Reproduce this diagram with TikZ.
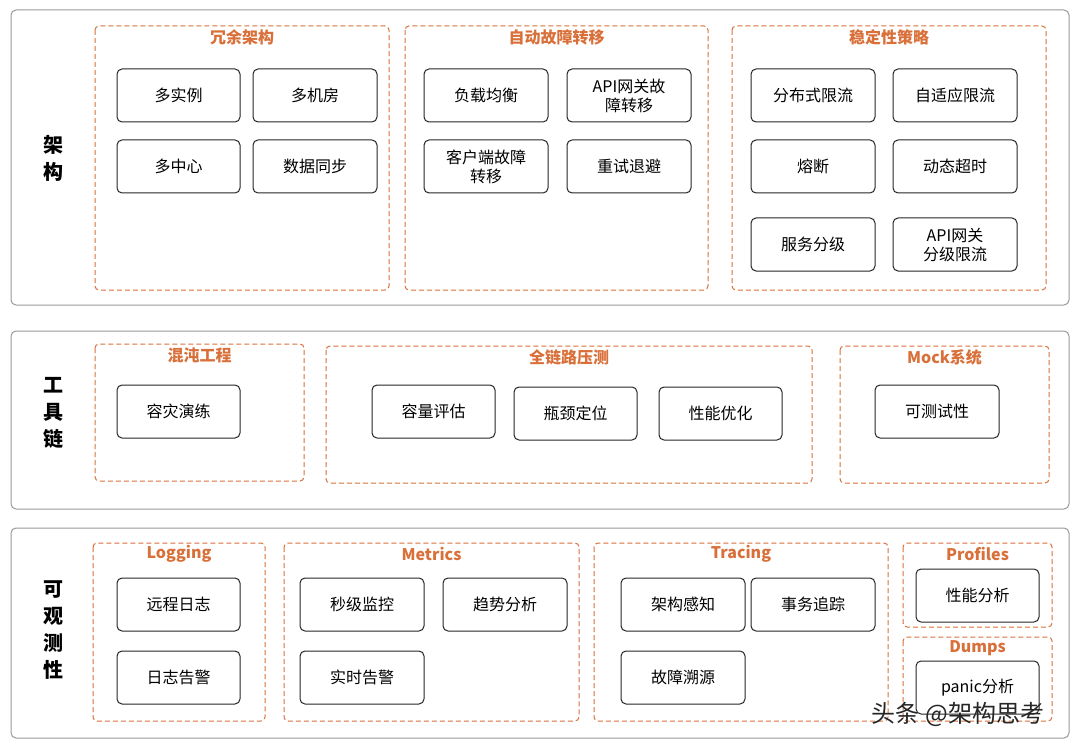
\documentclass[tikz,border=0pt]{standalone}
\usepackage{fontspec}
\setmainfont{Noto Sans CJK SC}
\definecolor{og}{HTML}{D9703A}
\begin{document}
\begin{tikzpicture}[x=1pt,y=-1pt,
 panel/.style={draw=black!40,line width=1pt,rounded corners=5pt,fill=white},
 grp/.style={draw=og,line width=1pt,rounded corners=4pt,dash pattern=on 5pt off 3pt},
 gt/.style={text=og,font=\fontsize{16}{16}\selectfont\bfseries},
 box/.style={draw=black!85,line width=1pt,rounded corners=5pt},
 bt/.style={align=center,font=\fontsize{16}{19}\selectfont},
 side/.style={align=center,font=\fontsize{20}{27}\selectfont\bfseries}]
\useasboundingbox (0,0) rectangle (1080,749);
\fill[white] (0,0) rectangle (1080,749);
\newcommand\bx[6]{\draw[box] (#2,#3) rectangle (#4,#5); \node[bt] (#1) at ({(#2+#4)/2},{(#3+#5)/2}) {#6};}
\newcommand\gr[6]{\draw[grp] (#2,#3) rectangle (#4,#5); \node[gt] (#1) at ({(#2+#4)/2},{#3+11}) {#6};}
\draw[panel] (11,10) rectangle (1069,305);
\draw[panel] (11,331) rectangle (1069,509);
\draw[panel] (11,528) rectangle (1069,738);
\node[side] (s1) at (53,158) {架\\构};
\node[side] (s2) at (53,413) {工\\具\\链};
\node[side] (s3) at (53,630) {可\\观\\测\\性};
\gr{g1}{95}{26}{389}{290}{冗余架构}
\gr{g2}{405}{26}{708}{290}{自动故障转移}
\gr{g3}{732}{26}{1046}{290}{稳定性策略}
\bx{b1}{117}{69}{240}{122}{多实例}
\bx{b2}{253}{69}{377}{122}{多机房}
\bx{b3}{117}{140}{240}{193}{多中心}
\bx{b4}{253}{140}{377}{193}{数据同步}
\bx{b5}{424}{69}{548}{122}{负载均衡}
\bx{b6}{567}{69}{691}{122}{API网关故\\障转移}
\bx{b7}{424}{140}{548}{193}{客户端故障\\转移}
\bx{b8}{567}{140}{691}{193}{重试退避}
\bx{b9}{751}{69}{875}{122}{分布式限流}
\bx{b10}{893}{69}{1017}{122}{自适应限流}
\bx{b11}{751}{140}{875}{193}{熔断}
\bx{b12}{893}{140}{1017}{193}{动态超时}
\bx{b13}{751}{218}{875}{271}{服务分级}
\bx{b14}{893}{218}{1017}{271}{API网关\\分级限流}
\gr{g4}{95}{344}{304}{481}{混沌工程}
\gr{g5}{326}{346}{812}{483}{全链路压测}
\gr{g6}{840}{346}{1049}{483}{Mock系统}
\bx{c1}{117}{385}{240}{438}{容灾演练}
\bx{c2}{372}{385}{495}{438}{容量评估}
\bx{c3}{514}{387}{637}{440}{瓶颈定位}
\bx{c4}{659}{387}{782}{440}{性能优化}
\bx{c5}{875}{385}{999}{438}{可测试性}
\gr{g7}{93}{543}{265}{721}{Logging}
\gr{g8}{284}{543}{579}{721}{Metrics}
\gr{g9}{594}{543}{888}{721}{Tracing}
\gr{g10}{903}{543}{1052}{627}{Profiles}
\gr{g11}{903}{637}{1052}{721}{Dumps}
\bx{d1}{117}{578}{240}{631}{远程日志}
\bx{d2}{117}{651}{240}{704}{日志告警}
\bx{d3}{300}{578}{424}{631}{秒级监控}
\bx{d4}{443}{578}{567}{631}{趋势分析}
\bx{d5}{300}{651}{424}{704}{实时告警}
\bx{d6}{621}{578}{745}{631}{架构感知}
\bx{d7}{751}{578}{875}{631}{事务追踪}
\bx{d8}{621}{651}{745}{704}{故障溯源}
\bx{d9}{916}{569}{1039}{622}{性能分析}
\bx{d10}{916}{661}{1039}{714}{panic分析}
\node[font=\fontsize{24}{24}\selectfont,text=black!85] (wm) at (958,714) {头条 @架构思考};
\end{tikzpicture}
\end{document}
